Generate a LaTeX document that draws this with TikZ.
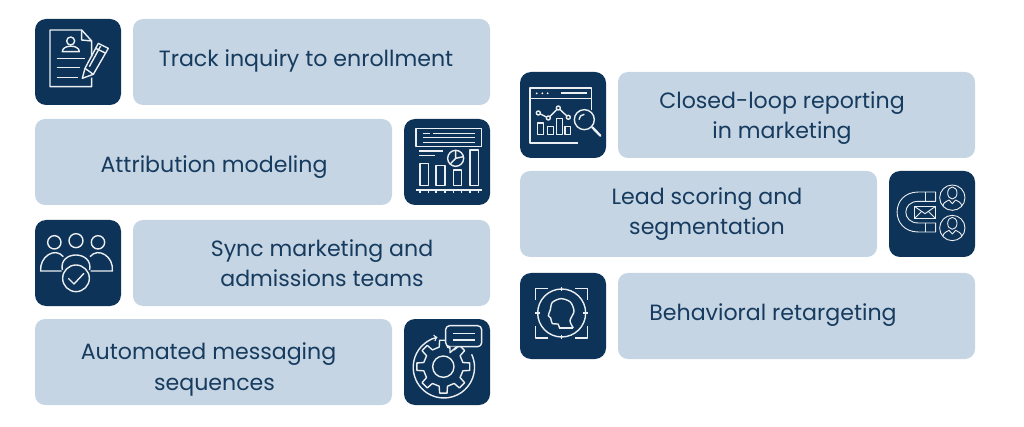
\documentclass[tikz,border=0pt]{standalone}
\usepackage{fontspec}
\setmainfont{Poppins}
\definecolor{tileblue}{HTML}{C5D5E4}
\definecolor{iconblue}{HTML}{0E3358}
\definecolor{inkblue}{HTML}{163B5E}
\tikzset{
	tile/.style={rectangle, fill=tileblue, rounded corners=10pt, inner sep=0pt, minimum width=357pt, minimum height=86pt},
	iconbox/.style={rectangle, fill=iconblue, rounded corners=11pt, inner sep=0pt, minimum width=86pt, minimum height=86pt},
	tiletext/.style={text=inkblue, align=center, inner sep=0pt, font=\fontsize{22.1}{30}\selectfont},
	iconline/.style={draw=white!92!iconblue, line width=1.4pt, line join=round}
}
\begin{document}
\begin{tikzpicture}[x=1pt, y=-1pt]
	\useasboundingbox (0,0) rectangle (1024,427);
	
	% left column
	\node (icontrack) [iconbox] at (78,62) {};
	\node (recttrack) [tile] at (311.5,62) {};
	\node (texttrack) [tiletext] at (306,61) {Track inquiry to enrollment};
	
	\node (rectattr) [tile] at (213.5,162) {};
	\node (iconattr) [iconbox] at (447,162) {};
	\node (textattr) [tiletext] at (214,167) {Attribution modeling};
	
	\node (iconsync) [iconbox] at (78,263) {};
	\node (rectsync) [tile] at (311.5,263) {};
	\node (textsync) [tiletext] at (322,263) {Sync marketing and\\admissions teams};
	
	\node (rectauto) [tile] at (213.5,362) {};
	\node (iconauto) [iconbox] at (447,362) {};
	\node (textauto) [tiletext] at (208.5,369) {Automated messaging\\[1pt]\hspace*{12pt}sequences};
	
	% right column
	\node (iconloop) [iconbox] at (563,115) {};
	\node (rectloop) [tile] at (796.5,115) {};
	\node (textloop) [tiletext] at (782,118) {Closed-loop reporting\\in marketing};
	
	\node (rectlead) [tile] at (698.5,214) {};
	\node (iconlead) [iconbox] at (932,214) {};
	\node (textlead) [tiletext] at (707,214) {Lead scoring and\\segmentation};
	
	\node (iconbehav) [iconbox] at (563,316) {};
	\node (rectbehav) [tile] at (796.5,316) {};
	\node (textbehav) [tiletext] at (773,315) {Behavioral retargeting};
	
	% document and pencil
	\begin{scope}[shift={(30,15)}, x=0.3333pt, y=-0.3333pt, iconline]
		\draw (185,125) -- (185,78) -- (155,45) -- (60,45) -- (60,215) -- (185,215) -- (185,188);
		\draw (155,45) -- (155,75) -- (185,78);
		\draw (122,78) circle [radius=12];
		\draw (97,110) .. controls (97,88) and (148,88) .. (148,110) -- cycle;
		\draw (80,130) -- (165,130);
		\draw (80,158) -- (150,158);
		\draw (80,188) -- (145,188);
		\draw (157,190) -- (165,160) -- (205,85) -- (235,100) -- (190,178) -- cycle;
		\draw (197,100) -- (228,115);
		\draw (178,155) -- (212,93);
		\draw (165,160) -- (190,178);
	\end{scope}
	
	% report with bars
	\begin{scope}[shift={(400,115)}, x=0.3333pt, y=-0.3333pt, iconline]
		\draw (48,40) rectangle (245,95);
		\draw (68,55) -- (90,55);
		\draw (100,55) -- (225,55);
		\draw (68,68) -- (225,68);
		\draw (68,82) -- (225,82);
		\draw (58,108) -- (128,108);
		\draw (58,122) -- (105,122);
		\draw (60,145) rectangle (85,212);
		\draw (108,152) rectangle (135,212);
		\draw (160,165) rectangle (185,212);
		\draw (210,105) rectangle (235,212);
		\draw (167,130) circle [radius=24];
		\draw (167,106) -- (167,130) -- (190,125);
		\draw (167,130) -- (150,148);
		\draw (48,225) -- (245,225);
		\foreach \tickx in {60,85,108,135,160,185,210,235}
			\draw (\tickx,225) -- (\tickx,235);
	\end{scope}
	
	% team with check
	\begin{scope}[shift={(30,215)}, x=0.3333pt, y=-0.3333pt, iconline]
		\draw (73,82) circle [radius=20];
		\draw (138,77) circle [radius=21];
		\draw (204,82) circle [radius=20];
		\draw (95,168) -- (32,168) .. controls (28,125) and (75,95) .. (100,125);
		\draw (180,125) .. controls (205,95) and (252,125) .. (247,168) -- (182,168);
		\draw (97,165) .. controls (85,105) and (190,105) .. (179,165);
		\draw (138,190) circle [radius=40];
		\draw (115,190) -- (132,207) -- (162,175);
	\end{scope}
	
	% gear and speech bubble
	\begin{scope}[shift={(400,315)}, x=0.3333pt, y=-0.3333pt, iconline]
		\draw (130,155) circle [radius=32];
		\begin{scope}[shift={(130,155)}]
			\draw (-12:60) \foreach \gearang in {0,45,...,315} {
				-- (\gearang-12:60) -- (\gearang-8:80) -- (\gearang+8:80) -- (\gearang+12:60)
			} -- cycle;
		\end{scope}
		\draw [fill=iconblue, rounded corners=4pt] (137,32) rectangle (245,95);
		\draw [fill=iconblue] (150,95) -- (150,113) -- (170,95);
		\draw (160,55) -- (225,55);
		\draw (160,75) -- (225,75);
		\draw [->] (215,118) arc [start angle=-25, end angle=258, radius=92];
	\end{scope}
	
	% window with chart and lens
	\begin{scope}[shift={(515,68)}, x=0.3333pt, y=-0.3333pt, iconline]
		\draw (230,125) -- (230,60) -- (45,60) -- (45,225) -- (190,225);
		\draw (45,92) -- (230,92);
		\foreach \dotx in {65,82,98}
			\fill [white] (\dotx,76) circle [radius=3];
		\draw [line width=1.7pt] (138,76) -- (215,76);
		\draw (70,135) -- (100,150) -- (130,120) -- (160,148);
		\foreach \ptx/\pty in {70/135,100/150,130/120,160/148}
			\draw [fill=iconblue] (\ptx,\pty) circle [radius=6];
		\draw (68,165) rectangle (85,200);
		\draw (97,175) rectangle (115,200);
		\draw (125,152) rectangle (143,200);
		\draw (150,175) rectangle (167,200);
		\draw [fill=iconblue] (208,155) circle [radius=30];
		\draw (192,155) arc [start angle=180, end angle=270, radius=16];
		\draw [line width=2.4pt, line cap=round] (232,178) -- (256,203);
	\end{scope}
	
	% magnet and people
	\begin{scope}[shift={(885,167)}, x=0.3333pt, y=-0.3333pt, iconline, line width=0.9pt]
		\draw (202,92) circle [radius=38];
		\draw (202,183) circle [radius=38];
		\foreach \facey in {92,183} {
			\draw (202,\facey-14) ellipse [x radius=14, y radius=18];
			\draw (174,\facey+24) .. controls (176,\facey+12) and (186,\facey+12) .. (192,\facey+7) -- (202,\facey+18) -- (212,\facey+7) .. controls (218,\facey+12) and (228,\facey+12) .. (230,\facey+24);
		}
		\draw (152,75) -- (100,75) .. controls (15,75) and (15,195) .. (100,195) -- (152,195) -- (152,168) -- (100,168) .. controls (50,168) and (50,103) .. (100,103) -- (152,103) -- cycle;
		\draw (122,75) -- (122,103);
		\draw (122,168) -- (122,195);
		\draw [fill=iconblue] (88,118) rectangle (152,155);
		\draw (88,118) -- (120,140) -- (152,118);
		\draw (88,155) -- (110,133);
		\draw (152,155) -- (130,133);
	\end{scope}
	
	% head in target frame
	\begin{scope}[shift={(515,268)}, x=0.3333pt, y=-0.3333pt, iconline]
		\draw (62,95) -- (62,62) -- (100,62);
		\draw (180,62) -- (217,62) -- (217,95);
		\draw (62,175) -- (62,210) -- (100,210);
		\draw (180,210) -- (217,210) -- (217,175);
		\draw (140,135) circle [radius=72];
		\draw (140,56) -- (140,70);
		\draw (140,200) -- (140,214);
		\draw (61,135) -- (75,135);
		\draw (205,135) -- (219,135);
		\draw plot [smooth, tension=0.5] coordinates {(133,180) (129,168) (112,167) (107,150) (100,143) (106,125) (112,103) (138,92) (166,102) (177,130) (165,158) (175,180)};
		\draw (133,180) -- (175,180);
	\end{scope}
\end{tikzpicture}
\end{document}
